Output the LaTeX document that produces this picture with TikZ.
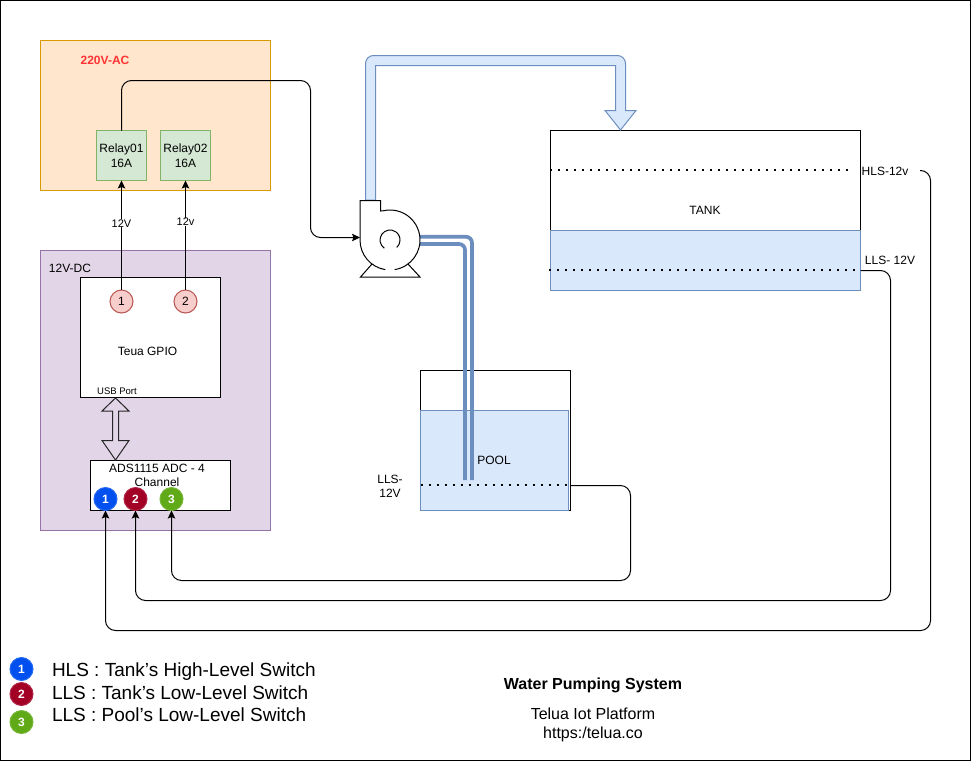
\documentclass[tikz,border=0pt]{standalone}
\usepackage{fontspec}
\setmainfont{Liberation Sans}
\usetikzlibrary{arrows.meta, positioning}

\definecolor{acfill}{HTML}{FFE6CC}
\definecolor{acline}{HTML}{D79B00}
\definecolor{relayfill}{HTML}{D5E8D4}
\definecolor{relayline}{HTML}{82B366}
\definecolor{dcfill}{HTML}{E1D5E7}
\definecolor{dcline}{HTML}{9673A6}
\definecolor{waterfill}{HTML}{DAE8FC}
\definecolor{waterline}{HTML}{6C8EBF}
\definecolor{gpiofill}{HTML}{F8CECC}
\definecolor{gpioline}{HTML}{B85450}
\definecolor{chanA}{HTML}{0050EF}
\definecolor{chanB}{HTML}{A20025}
\definecolor{chanC}{HTML}{60A917}

\tikzset{
	box/.style={draw, line width=1pt, inner sep=0pt, outer sep=0pt, anchor=north west},
	relaybox/.style={box, draw=relayline, fill=relayfill, minimum width=50pt, minimum height=50pt, align=center, font=\fontsize{12}{14}\selectfont},
	waterbox/.style={box, draw=waterline, fill=waterfill},
	lbl/.style={inner sep=0pt, outer sep=0pt, align=center, font=\fontsize{12}{14}\selectfont},
	tiny lbl/.style={lbl, font=\fontsize{9.5}{11}\selectfont},
	legend lbl/.style={inner sep=0pt, outer sep=0pt, anchor=west, font=\fontsize{19}{21}\selectfont},
	foot lbl/.style={inner sep=0pt, outer sep=0pt, font=\fontsize{16}{18}\selectfont},
	gpio/.style={circle, draw=gpioline, fill=gpiofill, line width=1pt, minimum size=23pt, inner sep=0pt, outer sep=0pt, font=\fontsize{12}{14}\selectfont},
	chan/.style={circle, draw=#1!85!white, fill=#1, text=white, line width=1pt, minimum size=23pt, inner sep=0pt, outer sep=0pt, font=\fontsize{12}{14}\selectfont\bfseries},
	wire/.style={line width=1pt, rounded corners=10pt, -{Stealth[length=8pt, width=7.5pt, inset=1.5pt]}},
	level/.style={line width=2pt, dash pattern=on 2pt off 6pt},
	pipe/.style={draw=waterline, line width=3.7pt, rounded corners=6pt}
}

\begin{document}
\begin{tikzpicture}[x=1pt, y=-1pt]
	\useasboundingbox (0,0) rectangle (971,761);
	\draw[line width=1pt] (0.5,0.5) rectangle (970,760);

	% panels
	\node[box, draw=acline, fill=acfill, minimum width=230pt, minimum height=150pt] (acpanel) at (40.5,40.5) {};
	\node[box, draw=dcline, fill=dcfill, minimum width=230pt, minimum height=280pt] (dcpanel) at (40.5,250.5) {};
	\node[lbl, text={rgb,255:red,255;green,51;blue,51}, font=\fontsize{12}{14}\selectfont\bfseries] (aclabel) at (105,60.5) {220V-AC};
	\node[lbl] (dclabel) at (70,268) {12V-DC};

	\node[relaybox] (relayA) at (96.5,130.5) {Relay01\\[1pt]16A};
	\node[relaybox] (relayB) at (160.5,130.5) {Relay02\\[1pt]16A};

	\node[box, fill=white, minimum width=140pt, minimum height=120pt] (gpiobox) at (80.5,277.5) {};
	\node[lbl] (gpiolabel) at (147.5,351) {Teua GPIO};
	\node[tiny lbl] (usblabel) at (117,391.5) {USB Port};
	\node[gpio] (gpioA) at (121.5,301.5) {1};
	\node[gpio] (gpioB) at (185.5,301.5) {2};

	\node[box, fill=white, minimum width=140pt, minimum height=50pt] (adcbox) at (90.5,460.5) {};
	\node[lbl] (adclabel) at (157,475) {ADS1115 ADC - 4\\Channel};
	\node[chan=chanA] (adcA) at (105.5,499) {1};
	\node[chan=chanB] (adcB) at (135.5,499) {2};
	\node[chan=chanC] (adcC) at (171.5,499) {3};

	% usb link
	\draw[line width=1pt, draw=black!85] (115.5,398) -- (129,411) -- (118.5,411) -- (118.5,440.5) -- (129,440.5) -- (115.5,460)
		-- (102,440.5) -- (112.5,440.5) -- (112.5,411) -- (102,411) -- cycle;

	% relay feeds
	\draw[wire] (gpioA) -- node[lbl, fill=white, pos=0.61] (voltA) {\fontsize{11}{12}\selectfont 12V} (relayA.south);
	\draw[wire] (gpioB) -- node[lbl, fill=white, pos=0.62] (voltB) {\fontsize{11}{12}\selectfont 12v} (relayB.south);

	% tank
	\node[box, fill=white, minimum width=310pt, minimum height=160pt] (tankbox) at (550.5,130.5) {};
	\node[waterbox, minimum width=310pt, minimum height=60pt] (tankwater) at (550.5,230.5) {};
	\node[lbl] (tanklabel) at (705,210.5) {TANK};
	\coordinate (hlsL) at (550,170);
	\coordinate (hlsR) at (850,170);
	\coordinate (llsL) at (549,270);
	\coordinate (llsR) at (860.5,270);
	\coordinate (llsOut) at (860.5,270.5);
	\draw[level] (hlsL) -- (hlsR);
	\draw[level] (llsL) -- (llsR);
	\node[lbl] (hlslabel) at (885,171) {HLS-12v};
	\node[lbl] (llslabel) at (890,260.5) {LLS- 12V};
	\coordinate (hlsOut) at (920,170.5);

	% pool
	\node[box, fill=white, minimum width=150pt, minimum height=140pt] (poolbox) at (420.5,370.5) {};
	\node[waterbox, minimum width=148pt, minimum height=100pt] (poolwater) at (420.5,410.5) {};
	\node[lbl] (poollabel) at (494,460.5) {POOL};
	\node[lbl] (poollls) at (390,486) {LLS-\\12V};
	\coordinate (poolL) at (420.5,485);
	\coordinate (poolR) at (570.5,485);
	\coordinate (poolOut) at (570.5,485.5);
	\draw[level] (poolL) -- (poolR);

	% suction pipe
	\draw[pipe] (420,236.8) -- (472,236.8) -- (472,480);
	\draw[pipe] (420,244) -- (465,244) -- (465,480);

	% delivery pipe
	\coordinate (tankIn) at (620.5,130);
	\draw[line width=1pt, draw=waterline, fill=waterfill]
		(365.5,200) -- (365.5,63.5) arc[start angle=180, end angle=270, radius=8] -- (617.5,55.5)
		arc[start angle=270, end angle=360, radius=8] -- (625.5,110.5) -- (636,110.5) -- (tankIn) -- (605,110.5) -- (615.5,110.5)
		-- (615.5,65.5) -- (375.5,65.5) -- (375.5,200) -- cycle;

	% pump
	\coordinate (pumpIn) at (360,237.5);
	\fill[white] (360,200.5) -- (380.5,200.5) -- (380.5,211) -- (382.7,210.9)
		arc[start angle=-104, end angle=180, radius=30] -- cycle;
	\draw[line width=1pt] (390,269.6) ++(4.7,0) arc[start angle=81, end angle=-104, radius=30] -- (380.5,211) -- (380.5,200.5) -- (360,200.5)
		-- (360,240) arc[start angle=180, end angle=99, radius=30];
	\draw[line width=1pt] (384.3,248.2) arc[start angle=125, end angle=408, radius=10];
	\draw[line width=1pt] (372,264) -- (360.5,277) -- (420,277) -- (408,264);

	% power and level wires
	\draw[wire] (relayA.north) -- (121.5,80.5) -- (310.5,80.5) -- (310.5,237.5) -- (pumpIn);
	\draw[wire] (poolOut) -- (630.5,485.5) -- (630.5,580.5) -- (171.5,580.5) -- (adcC.south);
	\draw[wire] (llsOut) -- (890.5,270.5) -- (890.5,600.5) -- (135.5,600.5) -- (adcB.south);
	\draw[wire] (hlsOut) -- (930.5,170.5) -- (930.5,630.5) -- (105.5,630.5) -- (adcA.south);

	% legend
	\node[chan=chanA] (keyA) at (21.5,669) {1};
	\node[chan=chanB] (keyB) at (21.5,694) {2};
	\node[chan=chanC] (keyC) at (21.5,722) {3};
	\node[legend lbl] (keytextA) at (52,671.5) {HLS : Tank’s High-Level Switch};
	\node[legend lbl] (keytextB) at (52,692.5) {LLS : Tank’s Low-Level Switch};
	\node[legend lbl] (keytextC) at (52,715) {LLS : Pool’s Low-Level Switch};

	% title
	\node[foot lbl, font=\fontsize{16}{18}\selectfont\bfseries] (title) at (593,685.5) {Water Pumping System};
	\node[foot lbl] (platform) at (593,714) {Telua Iot Platform};
	\node[foot lbl] (site) at (593,734.5) {https:/telua.co};
\end{tikzpicture}
\end{document}
